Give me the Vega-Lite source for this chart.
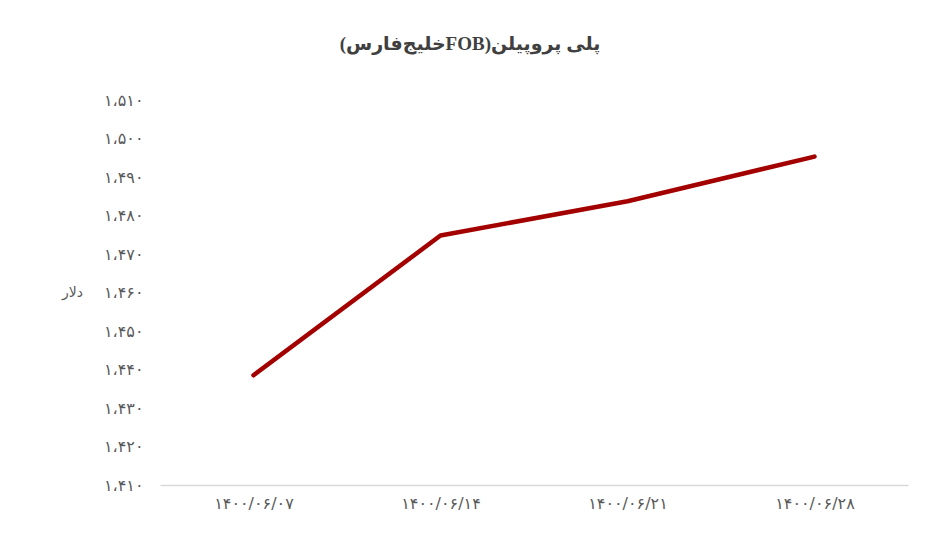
{
  "$schema": "https://vega.github.io/schema/vega-lite/v6.json",
  "autosize": {"type": "none"},
  "width": 748,
  "height": 385,
  "padding": {"left": 160, "top": 100, "right": 31, "bottom": 52},
  "background": "white",
  "title": {
    "text": "‫پلی پروپیلن(FOBخلیج‌فارس)‬",
    "font": "Liberation Serif, DejaVu Sans",
    "fontSize": 19,
    "fontWeight": "bold",
    "color": "#404040",
    "anchor": "middle",
    "dx": -64,
    "offset": 38
  },
  "data": {
    "values": [
      {"date": "۱۴۰۰/۰۶/۰۷", "price": 1438.5},
      {"date": "۱۴۰۰/۰۶/۱۴", "price": 1474.8},
      {"date": "۱۴۰۰/۰۶/۲۱", "price": 1483.7},
      {"date": "۱۴۰۰/۰۶/۲۸", "price": 1495.3}
    ]
  },
  "mark": {"type": "line", "color": "#a30000", "strokeWidth": 4.5, "strokeCap": "round", "strokeJoin": "round"},
  "encoding": {
    "x": {
      "field": "date",
      "type": "ordinal",
      "sort": null,
      "scale": {"type": "point", "padding": 0.5},
      "axis": {
        "title": null,
        "labelAngle": 0,
        "ticks": false,
        "grid": false,
        "domainColor": "#d9d9d9",
        "domainWidth": 1.5,
        "labelColor": "#595959",
        "labelFont": "DejaVu Sans",
        "labelFontSize": 16,
        "labelPadding": 10
      }
    },
    "y": {
      "field": "price",
      "type": "quantitative",
      "scale": {"domain": [1410, 1510], "nice": false, "zero": false},
      "axis": {
        "values": [1410, 1420, 1430, 1440, 1450, 1460, 1470, 1480, 1490, 1500, 1510],
        "labelExpr": "{'1410':'۱،۴۱۰','1420':'۱،۴۲۰','1430':'۱،۴۳۰','1440':'۱،۴۴۰','1450':'۱،۴۵۰','1460':'۱،۴۶۰','1470':'۱،۴۷۰','1480':'۱،۴۸۰','1490':'۱،۴۹۰','1500':'۱،۵۰۰','1510':'۱،۵۱۰'}[datum.value]",
        "domain": false,
        "ticks": false,
        "grid": false,
        "labelColor": "#595959",
        "labelFont": "DejaVu Sans",
        "labelFontSize": 16,
        "labelPadding": 17,
        "title": "دلار",
        "titleAngle": 0,
        "titleAlign": "center",
        "titleBaseline": "middle",
        "titleX": -88,
        "titleY": 192,
        "titleColor": "#595959",
        "titleFont": "DejaVu Sans",
        "titleFontSize": 14,
        "titleFontWeight": "normal"
      }
    }
  },
  "config": {"view": {"stroke": null}}
}
